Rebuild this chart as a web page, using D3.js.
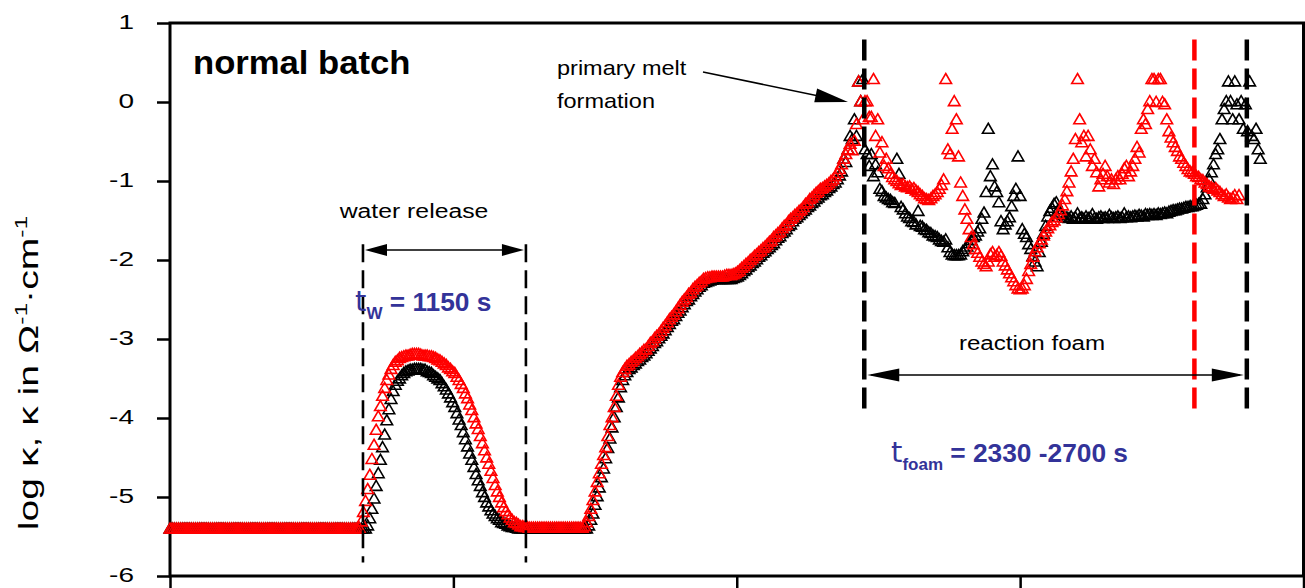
<!DOCTYPE html>
<html>
<head>
<meta charset="utf-8">
<script src="https://cdn.jsdelivr.net/npm/d3@7"></script>
<style>
  html, body { margin: 0; padding: 0; background: #fff; }
  svg { display: block; }
  text { font-family: "Liberation Sans", Arial, sans-serif; }
</style>
</head>
<body>
<svg id="chart" width="1305" height="588"></svg>
<script>
// Conductivity measurement, normal batch: log kappa sampled every 15 s
const SAMPLE_INTERVAL_S = 15;

const xTickValues = [0, 2000, 4000, 6000, 8000];
const yTickValues = [-6, -5, -4, -3, -2, -1, 0, 1];

// black run (log kappa), one value per sample
const blackLogK = [
  -5.41,-5.41,-5.41,-5.41,-5.41,-5.41,-5.41,-5.41,-5.41,-5.41,
  -5.41,-5.41,-5.41,-5.41,-5.41,-5.41,-5.41,-5.41,-5.41,-5.41,
  -5.41,-5.41,-5.41,-5.41,-5.41,-5.41,-5.41,-5.41,-5.41,-5.41,
  -5.41,-5.41,-5.41,-5.41,-5.41,-5.41,-5.41,-5.41,-5.41,-5.41,
  -5.41,-5.41,-5.41,-5.41,-5.41,-5.41,-5.41,-5.41,-5.41,-5.41,
  -5.41,-5.41,-5.41,-5.41,-5.41,-5.41,-5.41,-5.41,-5.41,-5.41,
  -5.41,-5.41,-5.41,-5.41,-5.41,-5.41,-5.41,-5.41,-5.41,-5.41,
  -5.41,-5.41,-5.41,-5.41,-5.41,-5.41,-5.41,-5.41,-5.41,-5.41,
  -5.41,-5.41,-5.41,-5.41,-5.41,-5.41,-5.41,-5.41,-5.41,-5.41,
  -5.41,-5.41,-5.41,-5.37,-5.28,-5.16,-5.03,-4.87,-4.71,-4.54,
  -4.38,-4.22,-4.04,-3.90,-3.77,-3.67,-3.59,-3.54,-3.51,-3.47,
  -3.44,-3.42,-3.41,-3.40,-3.40,-3.39,-3.39,-3.39,-3.39,-3.40,
  -3.40,-3.42,-3.43,-3.44,-3.47,-3.49,-3.51,-3.53,-3.57,-3.61,
  -3.65,-3.70,-3.75,-3.81,-3.87,-3.95,-4.03,-4.10,-4.19,-4.28,
  -4.37,-4.46,-4.54,-4.63,-4.72,-4.80,-4.87,-4.95,-5.01,-5.08,
  -5.13,-5.18,-5.22,-5.25,-5.28,-5.30,-5.33,-5.34,-5.35,-5.37,
  -5.38,-5.39,-5.39,-5.40,-5.41,-5.41,-5.41,-5.41,-5.41,-5.41,
  -5.41,-5.41,-5.41,-5.41,-5.41,-5.41,-5.41,-5.41,-5.41,-5.41,
  -5.41,-5.41,-5.41,-5.41,-5.41,-5.41,-5.41,-5.41,-5.41,-5.41,
  -5.41,-5.41,-5.41,-5.41,-5.41,-5.41,-5.41,-5.37,-5.30,-5.22,
  -5.11,-5.00,-4.89,-4.76,-4.65,-4.52,-4.39,-4.27,-4.13,-4.00,
  -3.87,-3.75,-3.62,-3.53,-3.47,-3.43,-3.39,-3.37,-3.34,-3.32,
  -3.29,-3.27,-3.24,-3.22,-3.19,-3.16,-3.13,-3.10,-3.06,-3.04,
  -3.00,-2.97,-2.94,-2.90,-2.86,-2.82,-2.78,-2.76,-2.72,-2.68,
  -2.65,-2.61,-2.57,-2.53,-2.51,-2.47,-2.44,-2.41,-2.38,-2.35,
  -2.33,-2.30,-2.29,-2.28,-2.27,-2.26,-2.25,-2.25,-2.25,-2.25,
  -2.25,-2.25,-2.25,-2.25,-2.25,-2.24,-2.23,-2.22,-2.20,-2.18,
  -2.15,-2.13,-2.10,-2.08,-2.05,-2.03,-2.00,-1.97,-1.95,-1.92,
  -1.90,-1.87,-1.85,-1.82,-1.80,-1.76,-1.73,-1.71,-1.67,-1.65,
  -1.62,-1.58,-1.56,-1.52,-1.49,-1.47,-1.44,-1.42,-1.39,-1.37,
  -1.34,-1.32,-1.29,-1.27,-1.24,-1.22,-1.19,-1.18,-1.15,-1.13,
  -1.10,-1.08,-1.05,-1.03,-0.99,-0.94,-0.89,-0.73,-0.77,-0.61,
  -0.44,-0.48,-0.23,-0.44, 0.25, 0.00, 0.28,-0.61,-0.67,-0.82,
  -0.67,-0.95,-0.80,-0.90,-1.11,-1.14,-1.20,-1.22,-1.24,-1.25,
  -1.28,-1.29,-0.73,-0.92,-1.34,-1.37,-1.42,-1.46,-1.48,-1.52,
  -1.53,-1.56,-1.39,-1.58,-1.59,-1.62,-1.63,-1.66,-1.67,-1.70,
  -1.71,-1.72,-1.75,-1.77,-1.78,-1.75,-1.85,-1.91,-1.94,-1.95,
  -1.95,-1.95,-1.94,-1.90,-1.87,-1.84,-1.80,-1.76,-1.72,-1.70,
  -1.65,-1.61,-1.49,-1.41,-1.15,-0.35,-0.95,-0.80,-1.08,-1.15,
  -1.28,-1.52,-1.62,-1.56,-1.52,-1.47,-1.33,-1.20,-1.11,-0.70,
  -1.20,-1.62,-1.68,-1.72,-1.81,-1.87,-1.96,-2.03,-2.09,-1.91,
  -1.78,-1.68,-1.58,-1.46,-1.39,-1.35,-1.30,-1.28,-1.37,-1.41,
  -1.44,-1.47,-1.47,-1.48,-1.46,-1.49,-1.47,-1.42,-1.48,-1.47,
  -1.49,-1.46,-1.48,-1.47,-1.43,-1.48,-1.49,-1.47,-1.46,-1.48,
  -1.47,-1.48,-1.44,-1.47,-1.48,-1.47,-1.46,-1.48,-1.47,-1.42,
  -1.47,-1.46,-1.47,-1.46,-1.45,-1.46,-1.44,-1.45,-1.46,-1.43,
  -1.44,-1.43,-1.44,-1.43,-1.44,-1.42,-1.43,-1.42,-1.41,-1.42,
  -1.40,-1.39,-1.38,-1.38,-1.37,-1.36,-1.36,-1.35,-1.34,-1.34,
  -1.33,-1.33,-1.32,-1.31,-1.30,-1.30,-1.24,-1.18,-1.09,-0.99,
  -0.90,-0.80,-0.67,-0.61,-0.48,-0.23,-0.10, 0.00, 0.25, 0.00,
  -0.23, 0.25,-0.04,-0.23, 0.00,-0.35,-0.04,-0.38, 0.25,-0.44,
  -0.48,-0.35,-0.61,-0.73
];

// red run (log kappa), one value per sample
const redLogK = [
  -5.41,-5.41,-5.41,-5.41,-5.41,-5.41,-5.41,-5.41,-5.41,-5.41,
  -5.41,-5.41,-5.41,-5.41,-5.41,-5.41,-5.41,-5.41,-5.41,-5.41,
  -5.41,-5.41,-5.41,-5.41,-5.41,-5.41,-5.41,-5.41,-5.41,-5.41,
  -5.41,-5.41,-5.41,-5.41,-5.41,-5.41,-5.41,-5.41,-5.41,-5.41,
  -5.41,-5.41,-5.41,-5.41,-5.41,-5.41,-5.41,-5.41,-5.41,-5.41,
  -5.41,-5.41,-5.41,-5.41,-5.41,-5.41,-5.41,-5.41,-5.41,-5.41,
  -5.41,-5.41,-5.41,-5.41,-5.41,-5.41,-5.41,-5.41,-5.41,-5.41,
  -5.41,-5.41,-5.41,-5.41,-5.41,-5.41,-5.41,-5.41,-5.41,-5.41,
  -5.41,-5.41,-5.41,-5.41,-5.41,-5.41,-5.41,-5.41,-5.41,-5.40,
  -5.32,-5.20,-5.06,-4.91,-4.73,-4.53,-4.35,-4.16,-3.99,-3.86,
  -3.73,-3.63,-3.53,-3.46,-3.39,-3.34,-3.30,-3.28,-3.25,-3.24,
  -3.23,-3.22,-3.22,-3.21,-3.20,-3.20,-3.20,-3.20,-3.21,-3.22,
  -3.22,-3.22,-3.23,-3.23,-3.24,-3.25,-3.27,-3.28,-3.30,-3.32,
  -3.34,-3.37,-3.39,-3.42,-3.44,-3.49,-3.53,-3.58,-3.63,-3.70,
  -3.76,-3.84,-3.91,-4.00,-4.08,-4.15,-4.24,-4.33,-4.42,-4.51,
  -4.59,-4.68,-4.77,-4.86,-4.94,-5.01,-5.08,-5.14,-5.19,-5.23,
  -5.27,-5.30,-5.33,-5.34,-5.36,-5.38,-5.38,-5.39,-5.39,-5.40,
  -5.40,-5.40,-5.40,-5.40,-5.40,-5.40,-5.40,-5.40,-5.40,-5.40,
  -5.40,-5.40,-5.40,-5.40,-5.40,-5.40,-5.40,-5.40,-5.40,-5.40,
  -5.40,-5.40,-5.40,-5.40,-5.40,-5.38,-5.33,-5.25,-5.16,-5.05,
  -4.94,-4.82,-4.71,-4.59,-4.48,-4.38,-4.24,-4.10,-4.00,-3.87,
  -3.73,-3.59,-3.49,-3.43,-3.39,-3.35,-3.33,-3.30,-3.28,-3.25,
  -3.23,-3.20,-3.18,-3.15,-3.14,-3.10,-3.06,-3.04,-3.00,-2.97,
  -2.95,-2.91,-2.87,-2.84,-2.80,-2.76,-2.73,-2.70,-2.66,-2.62,
  -2.58,-2.54,-2.51,-2.48,-2.44,-2.42,-2.38,-2.35,-2.33,-2.30,
  -2.28,-2.25,-2.24,-2.23,-2.23,-2.22,-2.22,-2.22,-2.22,-2.22,
  -2.22,-2.21,-2.20,-2.20,-2.20,-2.19,-2.18,-2.16,-2.14,-2.11,
  -2.09,-2.06,-2.04,-2.01,-1.99,-1.96,-1.94,-1.91,-1.89,-1.86,
  -1.84,-1.81,-1.78,-1.76,-1.72,-1.70,-1.67,-1.65,-1.61,-1.58,
  -1.56,-1.52,-1.49,-1.47,-1.44,-1.42,-1.39,-1.37,-1.34,-1.30,
  -1.28,-1.24,-1.22,-1.19,-1.16,-1.14,-1.11,-1.10,-1.08,-1.06,
  -1.04,-1.01,-0.99,-0.95,-0.91,-0.86,-0.80,-0.73,-0.67,-0.61,
  -0.54,-0.62,-0.50,-0.29, 0.25, 0.00,-0.23, 0.00, 0.00,-0.20,
  -0.20, 0.28,-0.44,-0.23,-0.65,-0.52,-0.82,-0.73,-0.85,-0.92,
  -0.96,-0.99,-1.01,-1.04,-1.06,-1.05,-1.08,-1.09,-1.08,-1.11,
  -1.10,-1.13,-1.15,-1.18,-1.20,-1.23,-1.24,-1.25,-1.23,-1.20,
  -1.18,-1.15,-1.11,-1.06,-0.99, 0.28,-0.61,-0.67,-0.35, 0.00,
  -0.23,-0.70,-1.03,-1.20,-1.37,-1.49,-1.62,-1.72,-1.81,-1.87,
  -1.92,-1.97,-2.03,-2.06,-2.09,-2.03,-1.94,-1.91,-1.97,-1.95,
  -1.91,-1.96,-2.03,-2.08,-2.13,-2.18,-2.23,-2.28,-2.33,-2.37,
  -2.38,-2.37,-2.33,-2.25,-2.15,-2.06,-1.97,-1.90,-1.85,-1.80,
  -1.75,-1.70,-1.65,-1.61,-1.57,-1.53,-1.51,-1.47,-1.43,-1.38,
  -1.32,-1.24,-1.14,-1.03,-0.89,-0.73,-0.48, 0.28,-0.23,-0.52,
  -0.44,-0.70,-0.44,-0.61,-0.82,-0.73,-0.90,-1.08,-0.99,-0.92,
  -0.82,-0.95,-1.03,-0.99,-1.05,-0.99,-0.95,-0.99,-0.92,-0.85,
  -0.82,-0.95,-0.89,-0.82,-0.73,-0.58,-0.65,-0.35,-0.23,-0.29,
  -0.10, 0.00, 0.28, 0.28,-0.01, 0.28, 0.28,-0.01,-0.04,-0.23,
  -0.38,-0.46,-0.52,-0.58,-0.63,-0.70,-0.73,-0.78,-0.82,-0.86,
  -0.89,-0.90,-0.92,-0.95,-0.96,-0.99,-1.00,-1.03,-1.05,-1.08,
  -1.09,-1.11,-1.10,-1.13,-1.15,-1.18,-1.20,-1.18,-1.22,-1.24,
  -1.22,-1.19,-1.24,-1.19
];

// event markers, seconds
const waterStart = 1362, waterDuration = 1150;
const foamStart = 4900, foamDurationRed = 2330, foamDurationBlack = 2700;

const svg = d3.select("#chart");
const plotLeft = 170, plotRight = 1303.5, plotTop = 23, plotBottom = 576;

const x = d3.scaleLinear().domain([0, 8000]).range([plotLeft, plotRight]);
const y = d3.scaleLinear().domain([-6, 1]).range([plotBottom, plotTop]);

const toPoints = arr => arr.map((v, i) => ({ t: i * SAMPLE_INTERVAL_S, v }));

// text placed at (px, py), widened horizontally by sx
function label(px, py, str, size, opts = {}) {
  const t = svg.append("text")
    .attr("transform", `translate(${px},${py}) scale(${opts.sx || 1},1)`)
    .attr("font-size", size)
    .attr("text-anchor", opts.anchor || "start")
    .attr("font-weight", opts.weight || "normal")
    .attr("fill", opts.fill || "#000");
  if (str) t.text(str);
  return t;
}

// ----- axes -----
const yAxis = d3.axisLeft(y).tickValues(yTickValues).tickSize(13).tickFormat("");
const gy = svg.append("g").attr("transform", `translate(${plotLeft},0)`).call(yAxis);
gy.select(".domain").remove();
gy.selectAll(".tick line").attr("stroke", "#000").attr("stroke-width", 2.5);
yTickValues.forEach(d => {
  label(134, y(d) + 5.5, d < 0 ? "-" + Math.abs(d) : String(d), 20, { anchor: "end", sx: 1.4 });
});

const xAxis = d3.axisBottom(x).tickValues(xTickValues).tickSize(14).tickFormat("");
const gx = svg.append("g").attr("transform", `translate(0,${plotBottom})`).call(xAxis);
gx.select(".domain").remove();
gx.selectAll(".tick line").attr("stroke", "#000").attr("stroke-width", 2.5);

// plot frame
svg.append("rect").attr("x", plotLeft).attr("y", plotTop)
  .attr("width", plotRight - plotLeft).attr("height", plotBottom - plotTop)
  .attr("fill", "none").attr("stroke", "#000").attr("stroke-width", 3);

// ----- markers -----
const tri = "M0,-6.4L5.8,3.6L-5.8,3.6Z";
function drawSeries(data, color) {
  svg.append("g").selectAll("path").data(toPoints(data)).join("path")
    .attr("d", tri)
    .attr("transform", d => `translate(${x(d.t)},${y(d.v)})`)
    .attr("fill", "none").attr("stroke", color).attr("stroke-width", 1.6);
}
drawSeries(blackLogK, "#000");
drawSeries(redLogK, "#ff0000");

// ----- dashed event lines -----
function vDash(t, v0, v1, color, w, dash) {
  svg.append("line").attr("x1", x(t)).attr("x2", x(t)).attr("y1", y(v0)).attr("y2", y(v1))
    .attr("stroke", color).attr("stroke-width", w).attr("stroke-dasharray", dash);
}
vDash(waterStart, -1.8, -5.83, "#000", 2.6, "18,8");
vDash(waterStart + waterDuration, -1.8, -5.83, "#000", 2.6, "18,8");
vDash(foamStart, 0.79, -3.88, "#000", 4.5, "21,8");
vDash(foamStart + foamDurationRed, 0.79, -3.88, "#ff0000", 4.5, "21,8");
vDash(foamStart + foamDurationBlack, 0.79, -3.88, "#000", 4.5, "21,8");

// ----- arrows -----
function head(tipX, tipY, dirX, dirY, len, half) {
  const bx = tipX - dirX * len, by = tipY - dirY * len;
  const nx = -dirY, ny = dirX;
  svg.append("path")
    .attr("d", `M${tipX},${tipY}L${bx + nx * half},${by + ny * half}L${bx - nx * half},${by - ny * half}Z`)
    .attr("fill", "#000");
}
function doubleArrow(x1, x2, yy, len, half) {
  svg.append("line").attr("x1", x1 + 4).attr("x2", x2 - 4).attr("y1", yy).attr("y2", yy)
    .attr("stroke", "#000").attr("stroke-width", 1.5);
  head(x1, yy, -1, 0, len, half);
  head(x2, yy, 1, 0, len, half);
}
doubleArrow(x(waterStart) + 2, x(waterStart + waterDuration) - 2, y(-1.873), 22, 6);
doubleArrow(x(foamStart) + 3, x(foamStart + foamDurationBlack) - 3, y(-3.456), 32, 6.5);

// primary melt formation pointer
{
  const x1 = 703, y1 = 72, x2 = 848, y2 = 102;
  const L = Math.hypot(x2 - x1, y2 - y1), dx = (x2 - x1) / L, dy = (y2 - y1) / L;
  svg.append("line").attr("x1", x1).attr("y1", y1).attr("x2", x2 - dx * 20).attr("y2", y2 - dy * 20)
    .attr("stroke", "#000").attr("stroke-width", 1.5);
  head(x2, y2, dx, dy, 33, 7);
}

// ----- text -----
label(193, 74, "normal batch", 33, { weight: "bold", sx: 1.05 });

label(557, 75, "primary melt", 21, { sx: 1.12 });
label(557, 108, "formation", 21, { sx: 1.12 });

label(414, 218, "water release", 21, { anchor: "middle", sx: 1.18 });
label(1032, 350, "reaction foam", 21, { anchor: "middle", sx: 1.15 });

function durationLabel(x0, y0, sub, rest) {
  const t = label(x0, y0, null, 26.3, { fill: "#333399" });
  t.append("tspan").attr("font-family", "DejaVu Sans, sans-serif").attr("font-size", 29).text("t");
  t.append("tspan").attr("font-size", 17).attr("font-weight", "bold").attr("dy", 8).text(sub);
  t.append("tspan").attr("font-weight", "bold").attr("dy", -8).text(rest);
}
durationLabel(355, 311, "W", " = 1150 s");
durationLabel(891, 462, "foam", " = 2330 -2700 s");

// y-axis title, reading bottom to top
{
  const t = svg.append("text")
    .attr("transform", "translate(38,373) rotate(-90) scale(1.45,1)")
    .attr("text-anchor", "middle").attr("font-size", 27);
  t.append("tspan").text("log \u03ba, \u03ba in \u03a9");
  t.append("tspan").attr("font-size", 17).attr("dy", -11).text("-1");
  t.append("tspan").attr("dy", 11).text("\u00b7cm");
  t.append("tspan").attr("font-size", 17).attr("dy", -11).text("-1");
}
</script>
</body>
</html>
